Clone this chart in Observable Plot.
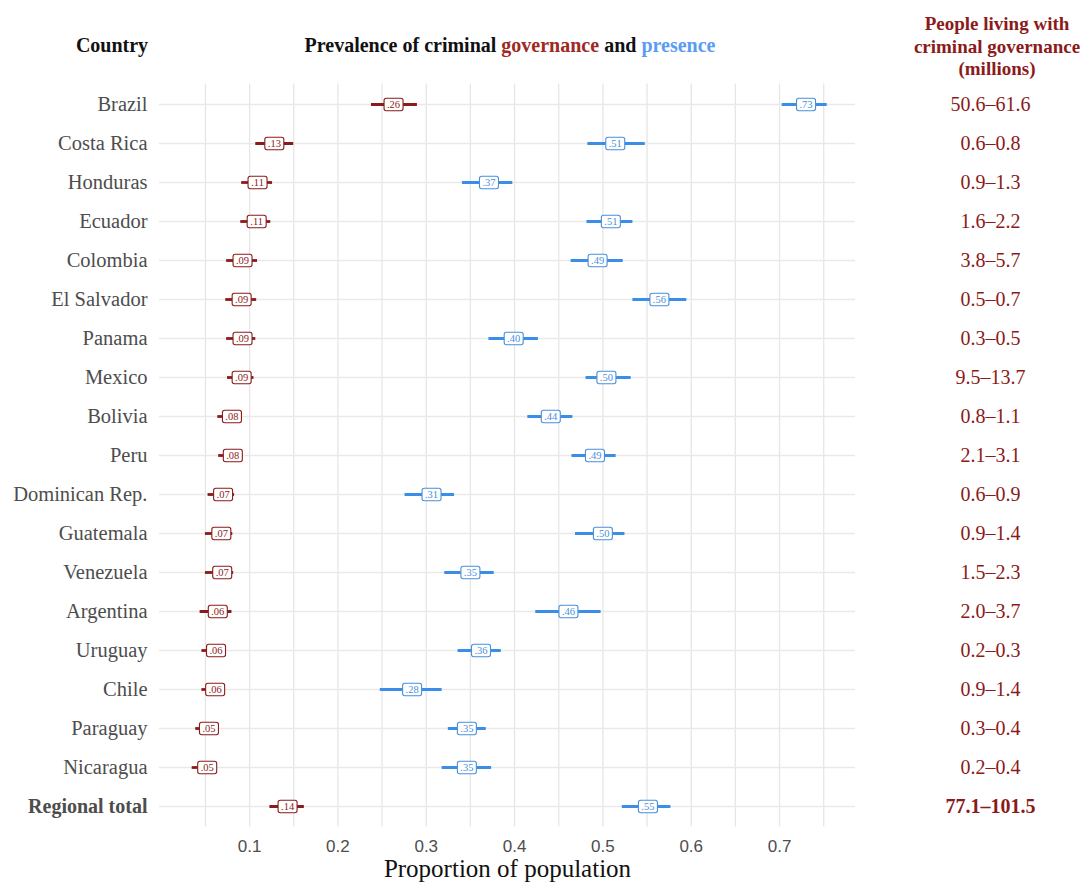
<!DOCTYPE html>
<html><head><meta charset="utf-8">
<script src="https://cdn.jsdelivr.net/npm/d3@7"></script>
<script src="https://cdn.jsdelivr.net/npm/@observablehq/plot@0.6"></script>
<style>
body{margin:0;background:#fff;}
#wrap{position:relative;width:1081px;height:886px;font-family:"Liberation Serif","Times New Roman",serif;}
.h{position:absolute;font-weight:bold;font-size:20px;color:#111;white-space:nowrap;}
#chart{position:absolute;left:0;top:0;}
</style></head><body>
<div id="wrap">
<div id="chart"></div>
<div class="h" style="left:60px;width:104px;text-align:center;top:34px">Country</div>
<div class="h" style="left:260px;width:500px;text-align:center;top:34px">Prevalence of criminal <span style="color:#9e2a24">governance</span> and <span style="color:#5a9cf4">presence</span></div>
<div class="h" style="left:897px;width:200px;text-align:center;top:13px;line-height:22.5px;font-size:19px;color:#8B1A1A">People living with<br>criminal governance<br>(millions)</div>
</div>
<script>
const countries = ["Brazil","Costa Rica","Honduras","Ecuador","Colombia","El Salvador","Panama","Mexico","Bolivia","Peru","Dominican Rep.","Guatemala","Venezuela","Argentina","Uruguay","Chile","Paraguay","Nicaragua","Regional total"];
const govMid = [0.263,0.128,0.109,0.108,0.092,0.091,0.092,0.091,0.080,0.081,0.070,0.068,0.069,0.064,0.062,0.061,0.054,0.052,0.143];
const govLo  = [0.238,0.107,0.091,0.090,0.074,0.073,0.074,0.075,0.064,0.065,0.053,0.050,0.050,0.044,0.046,0.046,0.039,0.035,0.123];
const govHi  = [0.290,0.150,0.126,0.124,0.109,0.108,0.107,0.105,0.092,0.092,0.083,0.081,0.082,0.080,0.072,0.070,0.061,0.058,0.162];
const presMid = [0.730,0.514,0.371,0.509,0.494,0.564,0.399,0.504,0.441,0.491,0.306,0.500,0.350,0.461,0.362,0.284,0.346,0.346,0.551];
const presLo  = [0.703,0.483,0.341,0.482,0.464,0.534,0.371,0.481,0.415,0.465,0.276,0.469,0.321,0.424,0.336,0.248,0.325,0.318,0.522];
const presHi  = [0.754,0.548,0.398,0.534,0.523,0.595,0.427,0.532,0.466,0.515,0.332,0.525,0.377,0.498,0.385,0.318,0.368,0.374,0.577];
const millLo = [50.6,0.6,0.9,1.6,3.8,0.5,0.3,9.5,0.8,2.1,0.6,0.9,1.5,2.0,0.2,0.9,0.3,0.2,77.1];
const millHi = [61.6,0.8,1.3,2.2,5.7,0.7,0.5,13.7,1.1,3.1,0.9,1.4,2.3,3.7,0.3,1.4,0.4,0.4,101.5];
const xTicks = [0.1,0.2,0.3,0.4,0.5,0.6,0.7];
const gridX = [0.05,0.1,0.15,0.2,0.25,0.3,0.35,0.4,0.45,0.5,0.55,0.6,0.65,0.7,0.75];

const RED = "#8B1A1A", BLUE = "#3b8ee8", BLUE_T = "#4a8fdc";
const TOTAL = "Regional total";
const rows = countries.map((c,i)=>({country:c, gm:govMid[i], gl:govLo[i], gh:govHi[i], pm:presMid[i], pl:presLo[i], ph:presHi[i],
  mill: millLo[i].toFixed(1) + "\u2013" + millHi[i].toFixed(1)}));
const lab = v => d3.format(".2f")(v).replace(/^0/, "");
const box = {draw(ctx){ const w=9.5,h=6.2,r=2.2;
  ctx.moveTo(-w+r,-h); ctx.lineTo(w-r,-h); ctx.arcTo(w,-h,w,-h+r,r); ctx.lineTo(w,h-r); ctx.arcTo(w,h,w-r,h,r);
  ctx.lineTo(-w+r,h); ctx.arcTo(-w,h,-w,h-r,r); ctx.lineTo(-w,-h+r); ctx.arcTo(-w,-h,-w+r,-h,r); ctx.closePath(); }};
const serif = "Liberation Serif, Times New Roman, serif";
const regular = rows.filter(d=>d.country!==TOTAL), total = rows.filter(d=>d.country===TOTAL);

const chart = Plot.plot({
  width:1081, height:886, marginTop:83.4, marginBottom:59.4, marginLeft:159, marginRight:226,
  style:{background:"transparent"},
  x:{domain:[-0.002,0.786]},
  y:{type:"point", domain:countries, padding:0.5, axis:null},
  marks:[
    Plot.ruleX(gridX, {stroke:"#e6e6e6", strokeWidth:1.3}),
    Plot.ruleY(countries, {y:d=>d, stroke:"#e9e9e9", strokeWidth:1.6}),
    Plot.axisX(xTicks, {tickSize:0, tickPadding:13, fontSize:17, fontFamily:"Liberation Sans, Arial, sans-serif", color:"#4d4d4d", label:null, tickFormat:d=>d.toFixed(1)}),
    Plot.ruleY(rows, {y:"country", x1:"gl", x2:"gh", stroke:RED, strokeWidth:2.8}),
    Plot.ruleY(rows, {y:"country", x1:"pl", x2:"ph", stroke:BLUE, strokeWidth:2.8}),
    Plot.dot(rows, {y:"country", x:"gm", symbol:box, r:5, fill:"white", stroke:RED, strokeWidth:1.1}),
    Plot.dot(rows, {y:"country", x:"pm", symbol:box, r:5, fill:"white", stroke:BLUE_T, strokeWidth:1.1}),
    Plot.text(rows, {y:"country", x:"gm", text:d=>lab(d.gm), fill:RED, fontSize:10.5, fontFamily:serif}),
    Plot.text(rows, {y:"country", x:"pm", text:d=>lab(d.pm), fill:BLUE_T, fontSize:10.5, fontFamily:serif}),
    Plot.text(regular, {y:"country", text:"country", frameAnchor:"left", dx:-12, textAnchor:"end", fontSize:20.5, fill:"#4d4d4d", fontFamily:serif}),
    Plot.text(total, {y:"country", text:"country", frameAnchor:"left", dx:-12, textAnchor:"end", fontSize:20, fill:"#4d4d4d", fontWeight:"bold", fontFamily:serif}),
    Plot.text(regular, {y:"country", text:"mill", frameAnchor:"right", dx:135, textAnchor:"middle", fontSize:20, fill:RED, fontFamily:serif}),
    Plot.text(total, {y:"country", text:"mill", frameAnchor:"right", dx:135, textAnchor:"middle", fontSize:20, fill:RED, fontWeight:"bold", fontFamily:serif}),
    Plot.text(["Proportion of population"], {text:d=>d, frameAnchor:"bottom", dy:50, fontSize:25, fill:"#111", fontFamily:serif})
  ]
});
document.getElementById("chart").appendChild(chart);
</script>
</body></html>
